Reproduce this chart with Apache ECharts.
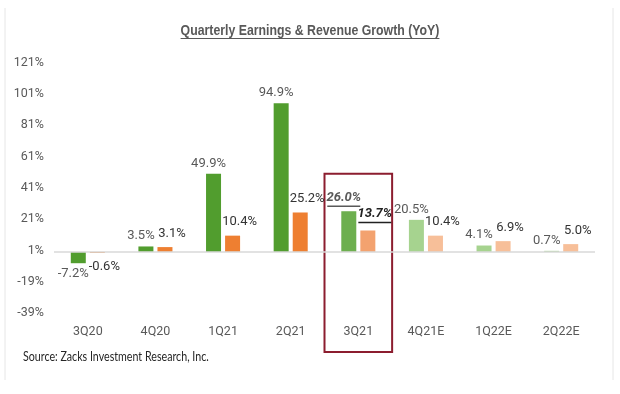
<!DOCTYPE html>
<html>
<head>
<meta charset="utf-8">
<script src="https://cdn.jsdelivr.net/npm/echarts@6/dist/echarts.min.js"></script>
<style>
html,body{margin:0;padding:0;background:#fff;}
#c{width:620px;height:394px;}
</style>
</head>
<body>
<div id="c"></div>
<script>
// ---- data ----
const categories = ['3Q20','4Q20','1Q21','2Q21','3Q21','4Q21E','1Q22E','2Q22E'];
const earningsGrowth = [-7.2, 3.5, 49.9, 94.9, 26.0, 20.5, 4.1, 0.7];
const revenueGrowth  = [-0.6, 3.1, 10.4, 25.2, 13.7, 10.4, 6.9, 5.0];
const yTicks = [-39, -19, 1, 21, 41, 61, 81, 101, 121];
const highlightCategory = '3Q21';
const titleText = 'Quarterly Earnings & Revenue Growth (YoY)';
const sourceText = 'Source: Zacks Investment Research, Inc.';

// ---- styles ----
const FONT = "Roboto, 'Liberation Sans', sans-serif";
const TITLE_FONT = "'Liberation Sans', Arial, sans-serif";
const SOURCE_FONT = "Lato, 'Liberation Sans', sans-serif";
const earnPalette = {actual:'#519D2E', highlight:'#6DAF4F', estimate:'#A6D38F'};
const revPalette  = {actual:'#EE7F31', highlight:'#F3A26F', estimate:'#F7BF99'};

function kindOf(cat){
  if (cat === highlightCategory) return 'highlight';
  if (/E$/.test(cat)) return 'estimate';
  return 'actual';
}

function buildData(values, palette, labelColor){
  return values.map((v, i) => {
    const kind = kindOf(categories[i]);
    const item = {
      value: v,
      itemStyle: {color: palette[kind]},
      label: {position: v < 0 ? 'bottom' : 'top'}
    };
    if (kind === 'highlight') {
      item.label.formatter = p => '{hl|' + p.value.toFixed(1) + '%}\n{ul| }';
      item.label.rich = {
        hl: {fontFamily: FONT, fontSize: 13, fontWeight: 'bold', fontStyle: 'italic', color: labelColor, lineHeight: 15},
        ul: {width: 33, height: 1.5, lineHeight: 2, fontSize: 1, backgroundColor: labelColor}
      };
    }
    return item;
  });
}

const chart = echarts.init(document.getElementById('c'), null, {renderer: 'canvas'});

const option = {
  backgroundColor: '#ffffff',
  animation: false,
  grid: {left: 54, right: 25, top: 62.5, bottom: 81, containLabel: false},
  xAxis: {
    type: 'category',
    data: categories,
    axisLine: {show: false},
    axisTick: {show: false},
    axisLabel: {fontFamily: FONT, fontSize: 12.5, color: '#595959', margin: 12}
  },
  yAxis: {
    type: 'value',
    min: yTicks[0],
    max: yTicks[yTicks.length - 1],
    splitLine: {show: false},
    axisLine: {show: false},
    axisTick: {show: false},
    axisLabel: {
      customValues: yTicks,
      formatter: v => v + '%',
      fontFamily: FONT, fontSize: 12.5, color: '#595959', margin: 10
    }
  },
  series: [
    {
      name: 'Earnings',
      type: 'bar',
      barWidth: 15,
      barGap: '27%',
      data: buildData(earningsGrowth, earnPalette, '#595959'),
      label: {
        show: true,
        distance: 4,
        offset: [-5, 0],
        formatter: p => p.value.toFixed(1) + '%',
        fontFamily: FONT, fontSize: 13, color: '#595959'
      }
    },
    {
      name: 'Revenue',
      type: 'bar',
      barWidth: 15,
      data: buildData(revenueGrowth, revPalette, '#222222'),
      label: {
        show: true,
        distance: 7,
        offset: [7, 0],
        formatter: p => p.value.toFixed(1) + '%',
        fontFamily: FONT, fontSize: 13, color: '#333333'
      },
      markLine: {
        silent: true,
        symbol: 'none',
        label: {show: false},
        lineStyle: {color: '#d9d9d9', width: 1.5, type: 'solid'},
        data: [{yAxis: 0}]
      }
    }
  ]
};
chart.setOption(option);

// ---- decorations computed from the chart's own scales ----
function measure(text, font){
  const ctx = document.createElement('canvas').getContext('2d');
  ctx.font = font;
  return ctx.measureText(text).width;
}
const TITLE_SCALE = 0.82;
const titleW = measure(titleText, "bold 15px " + TITLE_FONT) * TITLE_SCALE;
const hiX = chart.convertToPixel({xAxisIndex: 0}, highlightCategory);
const bandW = chart.convertToPixel({xAxisIndex: 0}, categories[1]) - chart.convertToPixel({xAxisIndex: 0}, categories[0]);
const boxTop = chart.convertToPixel({yAxisIndex: 0}, 50);
const gridBottom = chart.convertToPixel({yAxisIndex: 0}, yTicks[0]);

chart.setOption({
  graphic: [
    {type: 'line', silent: true, shape: {x1: 5, y1: 8, x2: 5, y2: 380}, style: {stroke: '#e6e6e6', lineWidth: 1}},
    {type: 'line', silent: true, shape: {x1: 613, y1: 8, x2: 613, y2: 380}, style: {stroke: '#e6e6e6', lineWidth: 1}},
    {type: 'text', silent: true, x: 310, y: 31, scaleX: TITLE_SCALE,
      style: {text: titleText, font: "bold 15px " + TITLE_FONT, fill: '#595959', align: 'center', verticalAlign: 'middle'}},
    {type: 'line', silent: true, shape: {x1: 310 - titleW / 2, y1: 38.5, x2: 310 + titleW / 2, y2: 38.5}, style: {stroke: '#595959', lineWidth: 1}},
    {type: 'rect', silent: true, shape: {x: hiX - bandW / 2, y: boxTop, width: bandW, height: gridBottom + 39 - boxTop},
      style: {fill: 'none', stroke: '#8C1D2F', lineWidth: 2}},
    {type: 'text', silent: true, x: 23, y: 357, scaleX: 0.82,
      style: {text: sourceText, font: "13px " + SOURCE_FONT, fill: '#262626', align: 'left', verticalAlign: 'middle'}}
  ]
});
</script>
</body>
</html>
